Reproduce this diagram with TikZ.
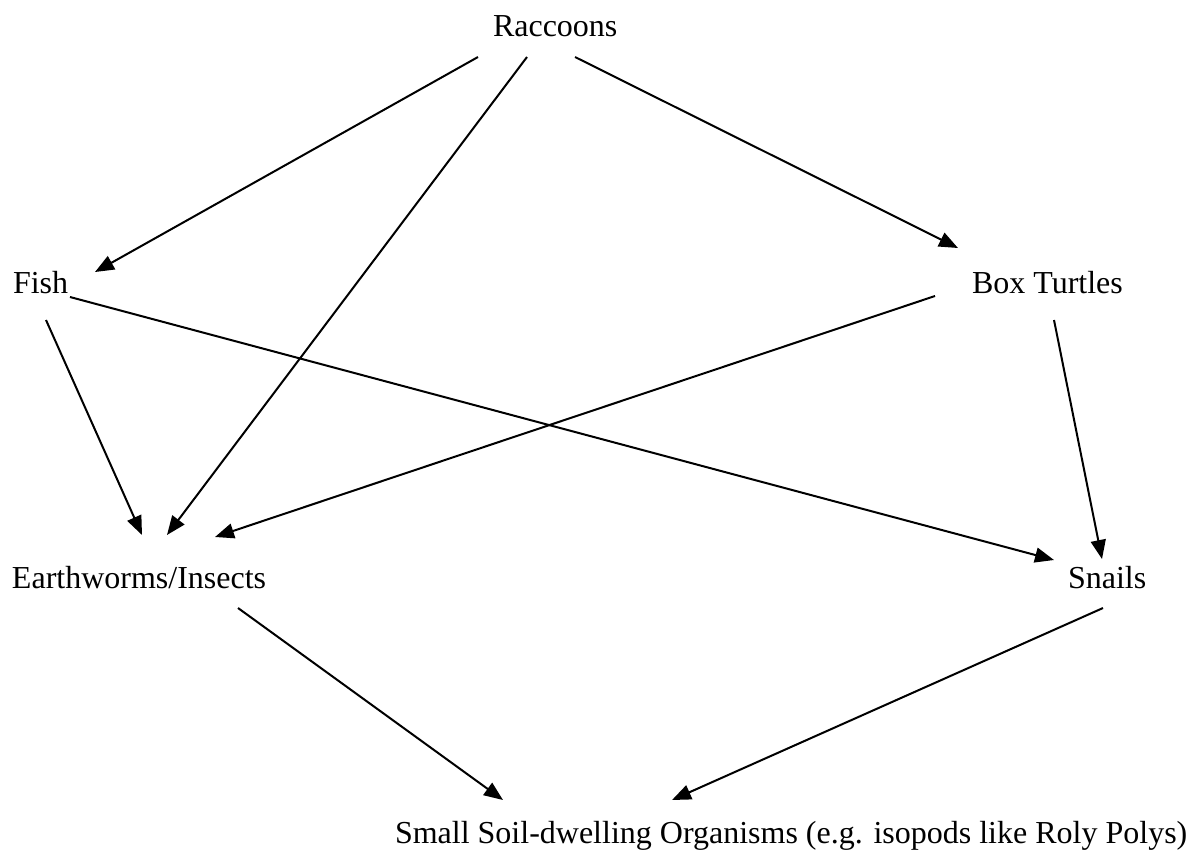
\documentclass[tikz,border=0pt]{standalone}
\usepackage{fontspec}
\setmainfont{Liberation Serif}
\usetikzlibrary{arrows.meta}
\begin{document}
\begin{tikzpicture}[x=1pt,y=-1pt,
  lbl/.style={anchor=base west,inner sep=0pt,outer sep=0pt,font=\fontsize{32}{38}\selectfont},
  link/.style={line width=2pt,-{Triangle[length=19pt,width=15pt]}}]
\useasboundingbox (0,0) rectangle (1196,857);
\node[lbl] (rac) at (493,36) {Raccoons};
\node[lbl] (fish) at (13,293) {Fish};
\node[lbl] (box) at (972,293) {Box Turtles};
\node[lbl] (ew) at (12,588) {Earthworms/Insects};
\node[lbl] (sn) at (1068,588) {Snails};
\node[lbl] (sm) at (395,843) {Small Soil-dwelling Organisms (e.g. isopods like Roly Polys)};
\draw[link] ([shift={(-15,21)}]rac.base west) -- ([shift={(82,-21)}]fish.base west);
\draw[link] ([shift={(34,21)}]rac.base west) -- ([shift={(155,-53)}]ew.base west);
\draw[link] ([shift={(82,21)}]rac.base west) -- ([shift={(-14,-45)}]box.base west);
\draw[link] ([shift={(33,27)}]fish.base west) -- ([shift={(130,-53)}]ew.base west);
\draw[link] ([shift={(57,4)}]fish.base west) -- ([shift={(-14,-28)}]sn.base west);
\draw[link] ([shift={(-37,3)}]box.base west) -- ([shift={(203,-51)}]ew.base west);
\draw[link] ([shift={(82,27)}]box.base west) -- ([shift={(34,-29)}]sn.base west);
\draw[link] ([shift={(226,20)}]ew.base west) -- ([shift={(108,-43)}]sm.base west);
\draw[link] ([shift={(35,20)}]sn.base west) -- ([shift={(277,-43)}]sm.base west);
\end{tikzpicture}
\end{document}
